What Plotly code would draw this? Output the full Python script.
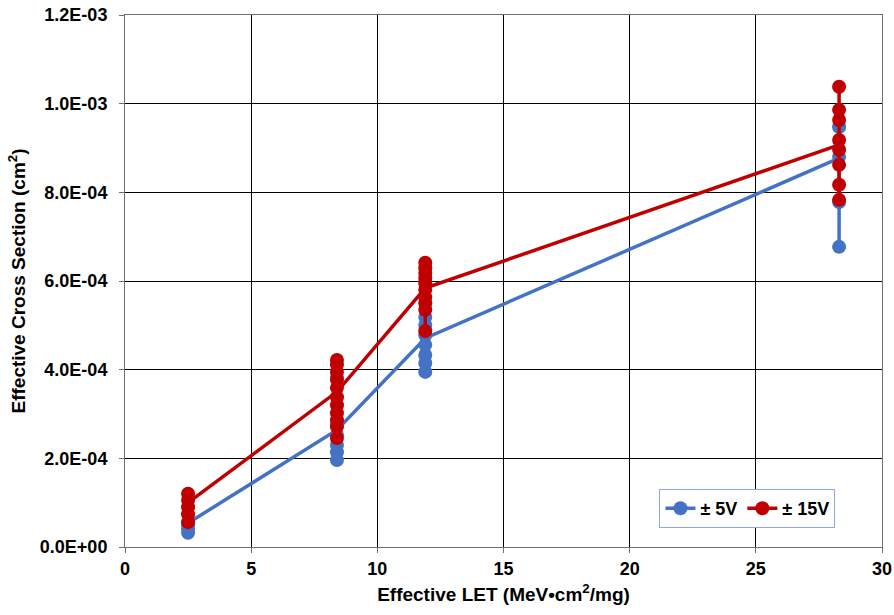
import plotly.graph_objects as go

let_values = [2.5, 8.4, 11.9, 28.3]

# individual measurements, +/-5V
v5_points = {
    2.5: [5.0e-5, 4.1e-5, 3.2e-5],
    8.4: [3.81e-4, 2.75e-4, 2.53e-4, 2.30e-4, 2.14e-4, 1.96e-4],
    11.9: [5.19e-4, 5.01e-4, 4.78e-4, 4.56e-4, 4.33e-4, 4.15e-4, 3.95e-4],
    28.3: [9.47e-4, 8.80e-4, 7.78e-4, 6.77e-4],
}
# individual measurements, +/-15V
v15_points = {
    2.5: [1.20e-4, 1.06e-4, 9.0e-5, 7.4e-5, 5.6e-5],
    8.4: [4.22e-4, 4.11e-4, 3.95e-4, 3.77e-4, 3.59e-4, 3.38e-4, 3.20e-4, 3.02e-4, 2.86e-4, 2.71e-4, 2.46e-4],
    11.9: [6.41e-4, 6.29e-4, 6.18e-4, 6.07e-4, 5.95e-4, 5.80e-4, 5.64e-4, 5.50e-4, 5.35e-4, 4.87e-4],
    28.3: [1.038e-3, 9.86e-4, 9.63e-4, 9.18e-4, 8.96e-4, 8.62e-4, 8.17e-4, 7.83e-4],
}
# average lines
v5_mean = [5.4e-5, 2.64e-4, 4.71e-4, 8.77e-4]
v15_mean = [1.0e-4, 3.5e-4, 5.84e-4, 9.07e-4]

y_tickvals = [0, 2e-4, 4e-4, 6e-4, 8e-4, 1.0e-3, 1.2e-3]
y_ticktext = ["0.0E+00", "2.0E-04", "4.0E-04", "6.0E-04", "8.0E-04", "1.0E-03", "1.2E-03"]
x_tickvals = [0, 5, 10, 15, 20, 25, 30]

blue = "#4472C4"
red = "#C00000"


def cluster_xy(points):
    xs, ys = [], []
    for x in let_values:
        for y in points[x]:
            xs.append(x)
            ys.append(y)
        xs.append(None)
        ys.append(None)
    return xs, ys


fig = go.Figure()
for name, pts, mean, col in [("± 5V", v5_points, v5_mean, blue),
                             ("± 15V", v15_points, v15_mean, red)]:
    fig.add_trace(go.Scatter(x=let_values, y=mean, mode="lines",
                             line=dict(color=col, width=3.5), showlegend=False,
                             hoverinfo="skip"))
    cx, cy = cluster_xy(pts)
    fig.add_trace(go.Scatter(x=cx, y=cy, mode="lines+markers", name=name,
                             line=dict(color=col, width=3.5),
                             marker=dict(color=col, size=14),
                             connectgaps=False))

font_family = "Liberation Sans, Arial, sans-serif"
bold = dict(family=font_family, size=18, color="black", weight="bold")
title_font = dict(family=font_family, size=19, color="black", weight="bold")
fig.update_layout(
    width=894, height=615,
    margin=dict(l=125, r=12, t=15, b=68, autoexpand=False),
    paper_bgcolor="white", plot_bgcolor="white",
    font=dict(family=font_family, size=18, color="black"),
    showlegend=True,
    legend=dict(x=0.706, y=0.109, xanchor="left", yanchor="top",
                orientation="h", bgcolor="white",
                bordercolor="#8EA9DB", borderwidth=1,
                font=bold, itemwidth=30, tracegroupgap=0),
    xaxis=dict(range=[0, 30], tickvals=x_tickvals, showgrid=True,
               gridcolor="black", gridwidth=1, zeroline=False,
               showline=True, linecolor="#707070", linewidth=1, mirror=True,
               ticks="outside", ticklen=5, tickcolor="#707070",
               tickfont=bold, automargin=False, ticklabeloverflow="allow",
               title=dict(text="Effective LET (MeV•cm<sup>2</sup>/mg)",
                          font=title_font, standoff=10)),
    yaxis=dict(range=[0, 1.2e-3], tickvals=y_tickvals, ticktext=y_ticktext,
               showgrid=True, gridcolor="black", gridwidth=1, zeroline=False,
               showline=True, linecolor="#707070", linewidth=1, mirror=True,
               ticks="outside", ticklen=5, tickcolor="#707070",
               tickfont=bold, automargin=False, ticklabelstandoff=8,
               ticklabeloverflow="allow",
               title=dict(text="Effective Cross Section (cm<sup>2</sup>)",
                          font=title_font, standoff=9)),
)

# remove the default page margin so the figure fills the 894x615 window exactly
fig.write_html("out.html",
               config={"displayModeBar": False},
               post_script="document.body.style.margin='0';document.body.style.overflow='hidden';")
